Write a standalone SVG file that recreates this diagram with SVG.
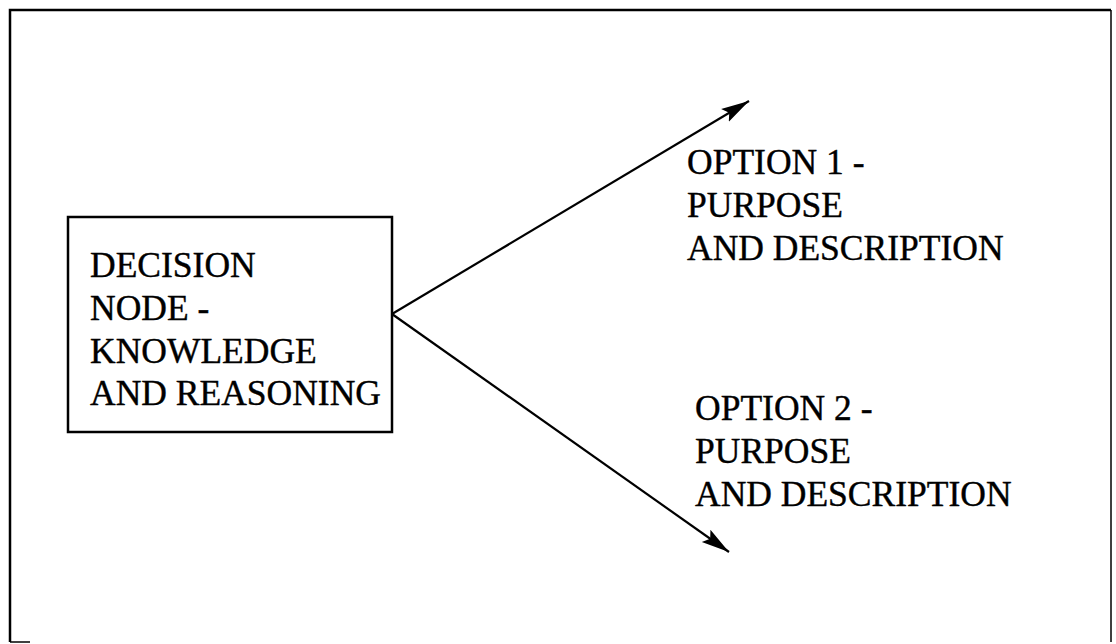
<svg xmlns="http://www.w3.org/2000/svg" width="1116" height="644" viewBox="0 0 1116 644">
  <style>
    .label { font-family: "Liberation Serif", "Times New Roman", serif; font-size: 35.5px; fill: #000; stroke: #000; stroke-width: 0.4; }
    .edge { stroke: #000; stroke-width: 2.2; fill: none; }
    .frame { stroke: #000; fill: none; }
  </style>
  <defs>
    <marker id="arrowhead" markerUnits="userSpaceOnUse" markerWidth="30" markerHeight="18" refX="28" refY="9" orient="auto">
      <path d="M0,1.5 L28,9 L0,16.5 L5,9 Z" fill="#000"/>
    </marker>
  </defs>
  <rect x="0" y="0" width="1116" height="644" fill="#fff"/>

  <!-- outer frame: bottom edge falls off the sheet except for a short stub -->
  <g id="frame">
    <path class="frame" stroke-width="2.5" d="M10,642 L10,10 L1111,10"/>
    <path class="frame" stroke-width="1.5" d="M1111,10 L1111,642"/>
    <path class="frame" stroke-width="1.5" stroke="#777" d="M10,642 L30,642"/>
  </g>

  <!-- connectors -->
  <g id="connectors">
    <line class="edge" x1="392" y1="314" x2="749" y2="101" marker-end="url(#arrowhead)"/>
    <line class="edge" x1="392" y1="314" x2="729" y2="552" marker-end="url(#arrowhead)"/>
  </g>

  <g id="decision-node">
    <rect x="68" y="217" width="324" height="215" fill="#fff" stroke="#000" stroke-width="2.5"/>
    <text class="label">
      <tspan x="90" y="277">DECISION</tspan>
      <tspan x="90" y="320">NODE -</tspan>
      <tspan x="90" y="363">KNOWLEDGE</tspan>
      <tspan x="90" y="405">AND REASONING</tspan>
    </text>
  </g>

  <g id="option-1">
    <text class="label">
      <tspan x="687" y="174">OPTION 1 -</tspan>
      <tspan x="687" y="217">PURPOSE</tspan>
      <tspan x="687" y="260">AND DESCRIPTION</tspan>
    </text>
  </g>

  <g id="option-2">
    <text class="label">
      <tspan x="695" y="420">OPTION 2 -</tspan>
      <tspan x="695" y="463">PURPOSE</tspan>
      <tspan x="695" y="506">AND DESCRIPTION</tspan>
    </text>
  </g>
</svg>
